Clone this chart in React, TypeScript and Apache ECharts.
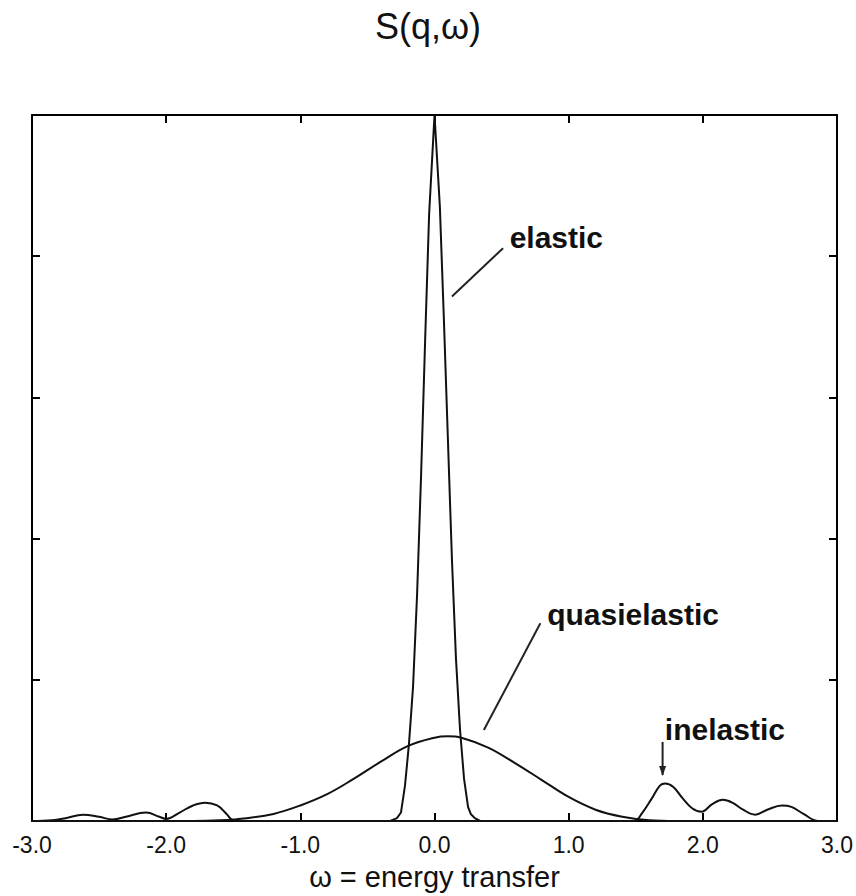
import React, { useEffect, useRef } from "react";
import * as echarts from "echarts";

const TITLE = "S(q,ω)";
const X_NAME = "ω = energy transfer";
const X_MIN = -3;
const X_MAX = 3;
const X_STEP = 1;
const Y_MIN = 0;
const Y_MAX = 5;
const Y_STEP = 1;

// elastic peak (ω, S)
const elasticW = [-0.33, -0.28, -0.25, -0.22, -0.19, -0.16, -0.13, -0.1, -0.07, -0.04, 0, 0.04, 0.07, 0.1, 0.13, 0.16, 0.19, 0.22, 0.25, 0.27, 0.3, 0.34];
const elasticS = [0, 0.02, 0.06, 0.25, 0.55, 0.95, 1.6, 2.45, 3.4, 4.3, 5.0, 4.35, 3.55, 2.7, 1.85, 1.15, 0.65, 0.3, 0.1, 0.05, 0.02, 0];

// quasielastic broad peak
const quasiW = [-3.0, -1.8, -1.6, -1.4, -1.2, -1.0, -0.8, -0.6, -0.4, -0.2, 0.0, 0.1, 0.2, 0.4, 0.6, 0.8, 1.0, 1.2, 1.4, 1.6, 1.8, 3.0];
const quasiS = [0, 0, 0.005, 0.02, 0.05, 0.11, 0.19, 0.3, 0.42, 0.53, 0.59, 0.6, 0.59, 0.52, 0.41, 0.29, 0.17, 0.08, 0.03, 0.005, 0, 0];

// inelastic side bands
const inelW = [-3.0, -2.85, -2.75, -2.62, -2.5, -2.4, -2.3, -2.15, -2.05, -2.0, -1.9, -1.8, -1.71, -1.62, -1.55, -1.5, -1.4, 1.45, 1.49, 1.55, 1.62, 1.68, 1.72, 1.78, 1.85, 1.92, 1.99, 2.07, 2.15, 2.22, 2.3, 2.39, 2.48, 2.59, 2.66, 2.75, 2.86, 3.0];
const inelS = [0, 0.005, 0.02, 0.045, 0.03, 0.01, 0.03, 0.06, 0.03, 0.015, 0.06, 0.11, 0.13, 0.11, 0.05, 0.005, 0, 0, 0, 0.06, 0.16, 0.25, 0.265, 0.24, 0.16, 0.09, 0.065, 0.12, 0.15, 0.13, 0.08, 0.045, 0.08, 0.11, 0.1, 0.05, 0, 0];

// annotations in data coordinates
const annLabels = ["elastic", "quasielastic", "inelastic"];
const annTextPos = [[0.56, 4.13], [0.84, 1.46], [1.717, 0.646]];
const annLineFrom = [[0.511, 4.057], [0.789, 1.4], [1.70, 0.56]];
const annLineTo = [[0.13, 3.715], [0.368, 0.644], [1.70, 0.326]];
const annArrow = [false, false, true];

const zip = (xs: number[], ys: number[]) => xs.map((x, i) => [x, ys[i]]);

export default function App() {
  const ref = useRef<HTMLDivElement>(null);
  useEffect(() => {
    document.body.style.margin = "0";
    const el = ref.current!;
    const chart = echarts.init(el, undefined, { renderer: "svg" });
    const lineStyle = { color: "#111", width: 2 };
    const axisLine = { show: true, onZero: false, lineStyle: { color: "#000", width: 2 } };
    const tick = { show: true, inside: true, length: 8, lineStyle: { color: "#000", width: 2 } };
    const font = "'Liberation Sans', Arial, Helvetica, sans-serif";
    chart.setOption({
      animation: false,
      backgroundColor: "#fff",
      title: {
        text: TITLE,
        left: "center",
        top: 3,
        textStyle: { fontFamily: font, fontSize: 36, fontWeight: "normal", color: "#111" },
      },
      grid: { left: 32, right: 10, top: 115, bottom: 75 },
      xAxis: [
        {
          type: "value",
          min: X_MIN,
          max: X_MAX,
          interval: X_STEP,
          position: "bottom",
          axisLine,
          axisTick: tick,
          splitLine: { show: false },
          axisLabel: {
            formatter: (v: number) => v.toFixed(1),
            fontFamily: font,
            fontSize: 23,
            color: "#111",
            margin: 12,
          },
          name: X_NAME,
          nameLocation: "middle",
          nameGap: 41,
          nameTextStyle: { fontFamily: font, fontSize: 29, color: "#111" },
        },
        {
          type: "value",
          min: X_MIN,
          max: X_MAX,
          interval: X_STEP,
          position: "top",
          axisLine,
          axisTick: tick,
          axisLabel: { show: false },
          splitLine: { show: false },
        },
      ],
      yAxis: [
        {
          type: "value",
          min: Y_MIN,
          max: Y_MAX,
          interval: Y_STEP,
          position: "left",
          axisLine,
          axisTick: tick,
          axisLabel: { show: false },
          splitLine: { show: false },
        },
        {
          type: "value",
          min: Y_MIN,
          max: Y_MAX,
          interval: Y_STEP,
          position: "right",
          axisLine,
          axisTick: tick,
          axisLabel: { show: false },
          splitLine: { show: false },
        },
      ],
      series: [
        { name: "elastic", type: "line", data: zip(elasticW, elasticS), showSymbol: false, smooth: false, lineStyle, z: 3 },
        { name: "quasielastic", type: "line", data: zip(quasiW, quasiS), showSymbol: false, smooth: 0.4, lineStyle, z: 3 },
        { name: "inelastic", type: "line", data: zip(inelW, inelS), showSymbol: false, smooth: 0.4, lineStyle, z: 3 },
      ],
    });

    const toPx = (p: number[]) => chart.convertToPixel({ gridIndex: 0 }, p) as number[];
    const graphic: any[] = [];
    annLabels.forEach((t, i) => {
      const tp = toPx(annTextPos[i]);
      const a = toPx(annLineFrom[i]);
      const b = toPx(annLineTo[i]);
      graphic.push({
        type: "text",
        x: tp[0],
        y: tp[1],
        style: {
          text: t,
          fill: "#111",
          font: "bold 30px 'Liberation Sans', Arial, sans-serif",
          textAlign: "left",
          textVerticalAlign: "middle",
        },
        z: 10,
      });
      graphic.push({
        type: "line",
        shape: { x1: a[0], y1: a[1], x2: b[0], y2: b[1] },
        style: { stroke: "#222", lineWidth: 2 },
        z: 10,
      });
      if (annArrow[i]) {
        graphic.push({
          type: "polygon",
          shape: { points: [[b[0] - 3.5, b[1] - 9], [b[0] + 3.5, b[1] - 9], [b[0], b[1] + 1]] },
          style: { fill: "#222" },
          z: 10,
        });
      }
    });
    chart.setOption({ graphic });

    return () => chart.dispose();
  }, []);
  return <div ref={ref} style={{ width: 856, height: 896 }} />;
}
